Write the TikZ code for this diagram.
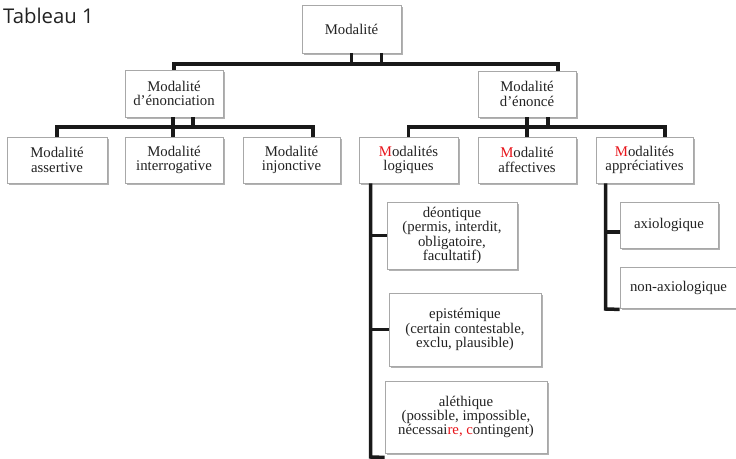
\documentclass[tikz,border=0pt]{standalone}
\usepackage{fontspec}
\setmainfont{Liberation Serif}
\newfontfamily\tabtitlefont{Open Sans}
\newfontfamily\boxserif{Liberation Serif}
\usetikzlibrary{shadows,calc}
\definecolor{txt}{HTML}{222222}
\definecolor{bord}{HTML}{A8A8A8}
\definecolor{redm}{HTML}{E8141A}
\begin{document}
\begin{tikzpicture}[x=1pt,y=-1pt,
  box/.style={draw=bord, line width=0.8pt, fill=white, text=txt, align=center,
    inner sep=0pt, font=\boxserif\fontsize{14.8}{14.3}\selectfont,
    drop shadow={shadow xshift=1.5pt, shadow yshift=-1.8pt, opacity=0.3, fill=black}},
  conn/.style={line width=3.5pt, draw=black!90}]
\path[use as bounding box, fill=white] (0,0) rectangle (736,458);
\node[anchor=base west, font=\tabtitlefont\fontsize{20.3}{21}\selectfont, text=txt, inner sep=0pt] (title) at (3,23) {Tableau 1};

% level 0
\node[box, minimum width=99pt, minimum height=48pt] (top) at (351.5,29) {Modalité};
% level 1
\node[box, minimum width=98pt, minimum height=47pt] (enon) at (174,93.5) {Modalité\\d’énonciation};
\node[box, minimum width=98pt, minimum height=46pt] (enonce) at (527,94) {Modalité\\d’énoncé};
% level 2
\node[box, minimum width=100pt, minimum height=46pt] (assert) at (57,160) {Modalité\\assertive};
\node[box, minimum width=98pt, minimum height=46pt] (interr) at (174,160) {Modalité\\interrogative};
\node[box, minimum width=97pt, minimum height=46pt] (injonc) at (291.5,160) {Modalité\\injonctive};
\node[box, minimum width=99pt, minimum height=46pt] (logiq) at (408.5,160) {\textcolor{redm}{M}odalités\\logiques};
\node[box, minimum width=98pt, minimum height=46pt] (affect) at (527,160) {\textcolor{redm}{M}odalité\\affectives};
\node[box, minimum width=97pt, minimum height=46pt] (apprec) at (644.5,160) {\textcolor{redm}{M}odalités\\appréciatives};
% level 3
\node[box, minimum width=130pt, minimum height=67pt] (deont) at (452,235.5) {déontique\\(permis, interdit,\\obligatoire,\\facultatif)};
\node[box, minimum width=152pt, minimum height=73pt] (epist) at (465,329.5) {epistémique\\(certain contestable,\\exclu, plausible)};
\node[box, minimum width=162pt, minimum height=72pt] (aleth) at (466,417) {aléthique\\(possible, impossible,\\nécessai\textcolor{redm}{re, c}ontingent)};
\node[box, minimum width=98pt, minimum height=46pt] (axio) at (669,225) {axiologique};
\node[box, minimum width=117pt, minimum height=41pt] (nonaxio) at (678.5,287.5) {non-axiologique};

% bus lines
\coordinate (b1) at (0,64);
\coordinate (b2) at (0,127);

\draw[conn] (top.south) -- (top.south |- b1);
\draw[conn] ([xshift=30pt]top.south) -- ([xshift=30pt]top.south |- b1);
\draw[conn] (enon.north) -- (enon.north |- b1) -- ([xshift=31pt]enonce.north |- b1) -- ([xshift=31pt]enonce.north);

\draw[conn] ([xshift=-1pt]enon.south) -- ([xshift=-1pt]enon.south |- b2);
\draw[conn] ([xshift=19pt]enon.south) -- ([xshift=19pt]enon.south |- b2);
\draw[conn] (assert.north) -- (assert.north |- b2) -- ([xshift=21.5pt]injonc.north |- b2) -- ([xshift=21.5pt]injonc.north);
\draw[conn] ([xshift=-1pt]interr.north) -- ([xshift=-1pt]interr.north |- b2);

\draw[conn] (enonce.south) -- (enonce.south |- b2);
\draw[conn] ([xshift=21pt]enonce.south) -- ([xshift=21pt]enonce.south |- b2);
\draw[conn] (logiq.north) -- (logiq.north |- b2) -- ([xshift=20.5pt]apprec.north |- b2) -- ([xshift=20.5pt]apprec.north);
\draw[conn] (affect.north) -- (affect.north |- b2);

% logiques branch
\coordinate (lx) at ([xshift=12pt]logiq.south west);
\draw[conn] (lx) -- (lx |- 0,457) -- ([yshift=-4pt]aleth.south west);
\draw[conn] (lx |- deont.west) -- (deont.west);
\draw[conn] (lx |- epist.west) -- (epist.west);

% appréciatives branch
\coordinate (ax) at ([xshift=10pt]apprec.south west);
\draw[conn] (ax) -- (ax |- 0,309) -- ([yshift=-1pt]nonaxio.south west);
\draw[conn] (ax |- 0,232) -- (axio.west |- 0,232);
\end{tikzpicture}
\end{document}
